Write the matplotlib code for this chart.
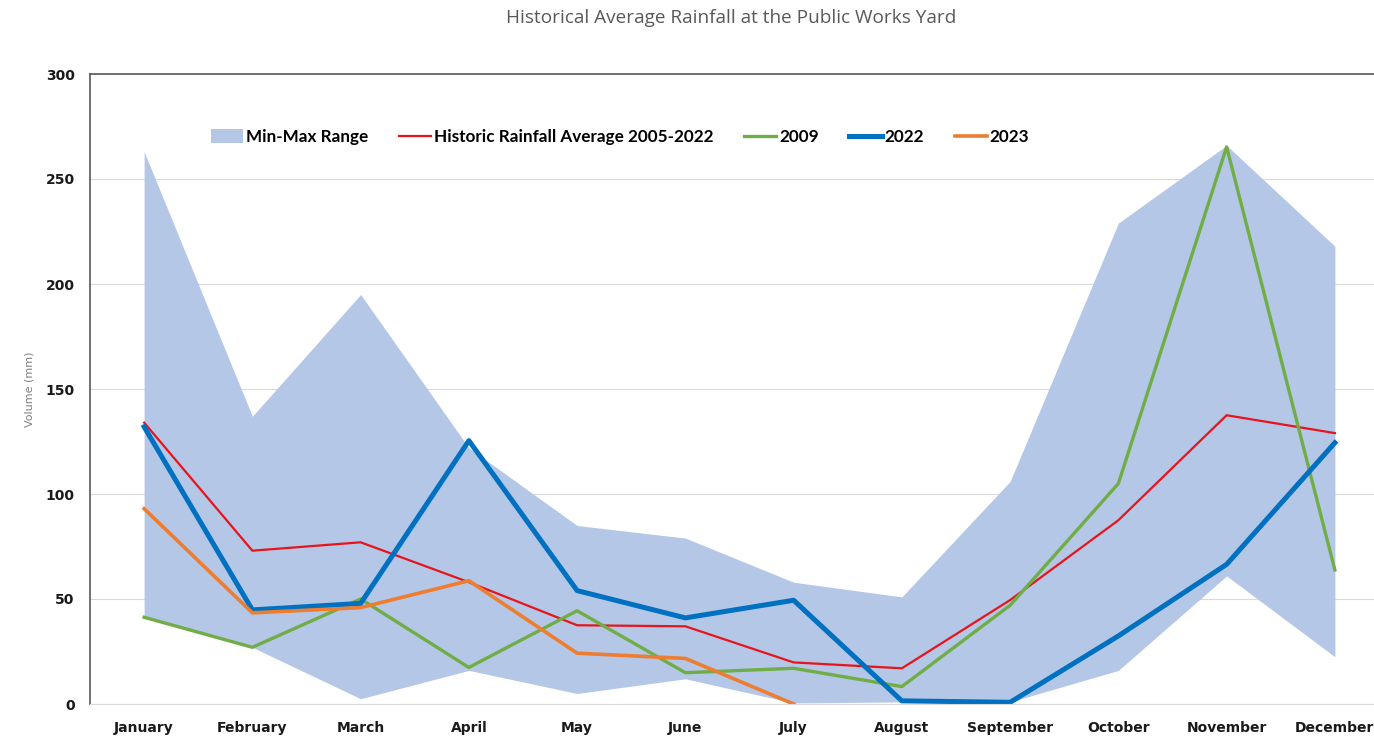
import matplotlib.pyplot as plt
import numpy as np

months = ['January', 'February', 'March', 'April', 'May', 'June', 'July',
          'August', 'September', 'October', 'November', 'December']

range_min = [41, 27, 2.5, 16, 5, 12, 0.5, 1, 1, 16, 61, 22.5]
range_max = [263, 137, 195, 122, 85, 79, 58, 51, 106, 229, 266, 218]
avg_2005_2022 = [134, 73, 77, 58, 37.5, 37, 19.8, 17, 49.5, 87.5, 137.5, 129]
rain_2009 = [41.3, 27, 50, 17.4, 44.4, 14.9, 17, 8.3, 47, 105, 265.3, 63.8]
rain_2022 = [132, 44.8, 47.9, 125.4, 54, 41, 49.4, 1.5, 0.8, 32.4, 66.5, 124.4]
rain_2023 = [93, 43.4, 45.9, 58.7, 24.2, 21.7, 0, np.nan, np.nan, np.nan, np.nan, np.nan]

x = np.arange(len(months))

fig = plt.figure(figsize=(13.74, 7.39), dpi=100)
ax = fig.add_axes([90 / 1374, 1 - 704 / 739, 1299 / 1374, 630 / 739])

ax.fill_between(x, range_min, range_max, color='#B4C7E7', linewidth=0, label='Min-Max Range')
ax.plot(x, avg_2005_2022, color='#E8141C', lw=1.6, label='Historic Rainfall Average 2005-2022')
ax.plot(x, rain_2009, color='#70AD47', lw=2.4, label='2009')
ax.plot(x, rain_2022, color='#0070C0', lw=3.6, label='2022')
ax.plot(x, rain_2023, color='#ED7D31', lw=2.6, label='2023')

ax.set_xlim(-0.5, 11.5)
ax.set_ylim(0, 300)
ax.set_yticks(range(0, 301, 50))
ax.set_xticks(x)
ax.set_xticklabels(months)
ax.grid(axis='y', color='#D9D9D9', lw=0.8)
ax.set_axisbelow(True)
ax.tick_params(length=0)
ax.tick_params(axis='x', pad=12)
ax.tick_params(axis='y', pad=11)
for lab in ax.get_xticklabels() + ax.get_yticklabels():
    lab.set_fontweight('bold')
    lab.set_fontsize(10)
    lab.set_color('#1a1a1a')

for side in ['left', 'top']:
    ax.spines[side].set_color('#595959')
    ax.spines[side].set_linewidth(1.2)
ax.spines['bottom'].set_color('#D9D9D9')
ax.spines['right'].set_visible(False)

ax.set_ylabel('Volume (mm)', fontsize=8, color='#7f7f7f')
ax.yaxis.set_label_coords(-56 / 1299, 0.5)

fig.text(731 / 1374, 1 - 18 / 739, 'Historical Average Rainfall at the Public Works Yard',
         ha='center', va='center', fontsize=13.7, color='#595959', family='Open Sans')

ax.legend(loc='center', bbox_to_anchor=(620 / 1374, 1 - 137 / 739), bbox_transform=fig.transFigure,
          ncol=5, frameon=False, prop={'family': 'Lato', 'weight': 'bold', 'size': 12.3},
          handlelength=1.9, handletextpad=0.15, columnspacing=1.8, handleheight=0.9)

fig.savefig('out.png', dpi=100)
